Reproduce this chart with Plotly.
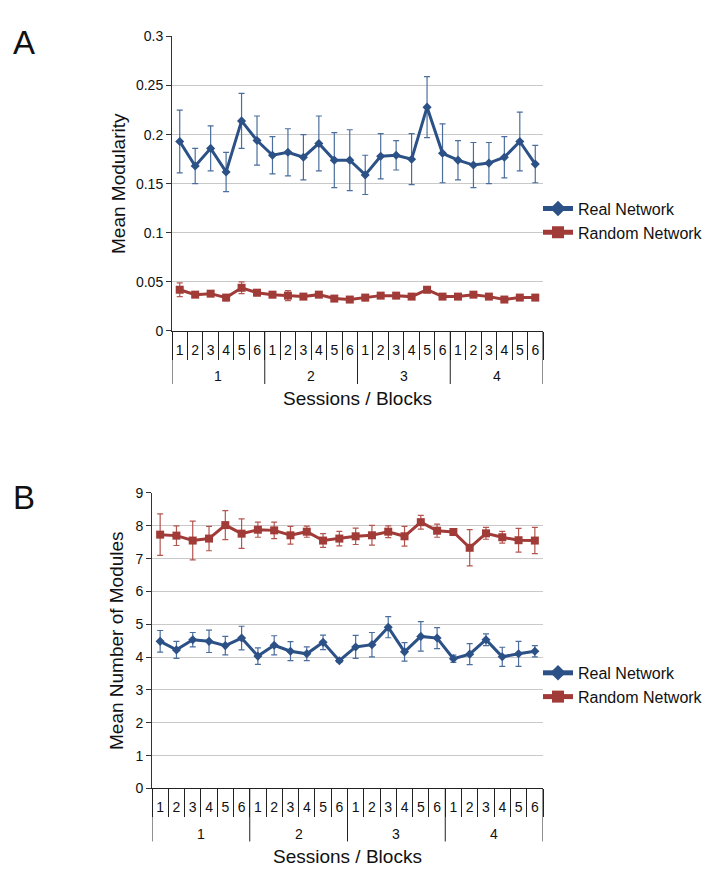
import plotly.graph_objects as go

# Sessions (outer level) and blocks (inner level) of the x axis
sessions = ["1", "2", "3", "4"]
blocks = ["1", "2", "3", "4", "5", "6"]
x_session = [s for s in sessions for _ in blocks]
x_block = [b for _ in sessions for b in blocks]

# Panel A: mean modularity
mod_real = [0.193, 0.168, 0.186, 0.162, 0.214, 0.194, 0.179, 0.182, 0.177, 0.191, 0.174, 0.174,
            0.159, 0.178, 0.179, 0.175, 0.228, 0.181, 0.174, 0.169, 0.171, 0.177, 0.193, 0.170]
mod_real_err = [0.032, 0.018, 0.023, 0.020, 0.028, 0.025, 0.019, 0.024, 0.023, 0.028, 0.028, 0.031,
                0.020, 0.023, 0.015, 0.026, 0.031, 0.030, 0.020, 0.023, 0.021, 0.021, 0.030, 0.019]
mod_rand = [0.042, 0.037, 0.038, 0.034, 0.044, 0.039, 0.037, 0.036, 0.035, 0.037, 0.033, 0.032,
            0.034, 0.036, 0.036, 0.035, 0.042, 0.035, 0.035, 0.037, 0.035, 0.032, 0.034, 0.034]
mod_rand_err = [0.007, 0.002, 0.002, 0.003, 0.006, 0.003, 0.003, 0.005, 0.002, 0.002, 0.002, 0.002,
                0.003, 0.002, 0.002, 0.002, 0.003, 0.002, 0.002, 0.002, 0.002, 0.002, 0.002, 0.002]

# Panel B: mean number of modules
nmod_real = [4.48, 4.22, 4.53, 4.48, 4.35, 4.58, 4.03, 4.36, 4.18, 4.10, 4.45, 3.89,
             4.31, 4.38, 4.91, 4.16, 4.63, 4.58, 3.95, 4.09, 4.53, 4.01, 4.10, 4.18]
nmod_real_err = [0.33, 0.26, 0.22, 0.34, 0.28, 0.36, 0.25, 0.29, 0.29, 0.21, 0.22, 0.05,
                 0.35, 0.37, 0.32, 0.28, 0.45, 0.32, 0.11, 0.32, 0.18, 0.29, 0.38, 0.17]
nmod_rand = [7.73, 7.70, 7.55, 7.61, 8.02, 7.76, 7.88, 7.86, 7.71, 7.82, 7.55, 7.61,
             7.68, 7.71, 7.82, 7.68, 8.11, 7.85, 7.81, 7.33, 7.77, 7.65, 7.56, 7.55]
nmod_rand_err = [0.63, 0.30, 0.59, 0.37, 0.44, 0.45, 0.23, 0.25, 0.27, 0.17, 0.21, 0.22,
                 0.25, 0.30, 0.18, 0.30, 0.21, 0.20, 0.10, 0.55, 0.18, 0.18, 0.36, 0.40]

BLUE = "#2C5187"
RED = "#A13B37"
BLUE_ERR = "#4B6E9E"
RED_ERR = "#B45550"
AXIS = "#222222"
TXT = "#111111"
FONT = "Liberation Sans, Arial, sans-serif"

W, H = 710, 873

# category positions along x, with session boundaries and session centres
n_cat = len(x_block)
n_blk = len(blocks)
xpos = list(range(n_cat))
bounds = [i - 0.5 for i in range(n_cat + 1)]
session_bounds = [i * n_blk - 0.5 for i in range(len(sessions) + 1)]
session_mid = [i * n_blk + (n_blk - 1) / 2 for i in range(len(sessions))]


def px_x(v):
    return v / W


def px_y(v):
    return 1 - v / H


fig = go.Figure()


def add_series(y, err, name, color, err_color, symbol, size, xa, ya, legend):
    fig.add_trace(go.Scatter(
        x=xpos, y=y, name=name, mode="lines+markers",
        customdata=list(zip(x_session, x_block)),
        hovertemplate="Session %{customdata[0]}, block %{customdata[1]}: %{y}<extra>" + name + "</extra>",
        line=dict(color=color, width=3),
        marker=dict(symbol=symbol, size=size, color=color),
        error_y=dict(type="data", array=err, visible=True, color=err_color,
                     thickness=1.2, width=3),
        xaxis=xa, yaxis=ya, legend=legend,
    ))


add_series(mod_real, mod_real_err, "Real Network", BLUE, BLUE_ERR, "diamond", 7, "x", "y", "legend")
add_series(mod_rand, mod_rand_err, "Random Network", RED, RED_ERR, "square", 8, "x", "y", "legend")
add_series(nmod_real, nmod_real_err, "Real Network", BLUE, BLUE_ERR, "diamond", 7, "x2", "y2", "legend2")
add_series(nmod_rand, nmod_rand_err, "Random Network", RED, RED_ERR, "square", 8, "x2", "y2", "legend2")

xaxis_common = dict(
    range=[-0.5, n_cat - 0.5], autorange=False,
    tickmode="array", tickvals=xpos, ticktext=x_block, tickangle=0,
    ticks="", ticklabelstandoff=6,
    minor=dict(tickmode="array", tickvals=bounds, ticks="outside", ticklen=28,
               tickcolor=AXIS, tickwidth=1, showgrid=False),
    showline=True, linecolor=AXIS, linewidth=1,
    showgrid=False, zeroline=False, tickfont=dict(family=FONT, size=14, color=TXT),
)
yaxis_common = dict(
    showline=True, linecolor="#333333", linewidth=1,
    ticks="outside", ticklen=5, tickcolor="#333333",
    showgrid=True, gridcolor="#C9C9C9", gridwidth=1, zeroline=False,
    tickfont=dict(family=FONT, size=14, color=TXT),
)

# panel geometry in pixels
panels = {
    "A": dict(bottom=329, xa="x", letter_top=14),
    "B": dict(bottom=795, xa="x2", letter_top=478),
}

shapes = []
annotations = []
for letter, p in panels.items():
    # session dividers below the x axis
    for b in session_bounds:
        shapes.append(dict(type="line", xref=p["xa"], yref="paper", x0=b, x1=b,
                           y0=px_y(p["bottom"]), y1=px_y(p["bottom"] + 54),
                           line=dict(color=AXIS, width=1)))
    # session labels
    for s, m in zip(sessions, session_mid):
        annotations.append(dict(text=s, xref=p["xa"], yref="paper", x=m, y=px_y(p["bottom"] + 46),
                                xanchor="center", yanchor="middle", showarrow=False,
                                font=dict(family=FONT, size=14, color=TXT)))
    # x axis title
    annotations.append(dict(text="Sessions / Blocks", xref=p["xa"] + " domain", yref="paper",
                            x=0.5, y=px_y(p["bottom"] + 69), xanchor="center", yanchor="middle",
                            showarrow=False, font=dict(family=FONT, size=19, color=TXT)))
    # panel letter
    annotations.append(dict(text=letter, x=px_x(11), y=px_y(p["letter_top"]), xref="paper",
                            yref="paper", xanchor="left", yanchor="top", showarrow=False,
                            font=dict(family=FONT, size=33, color=TXT)))

fig.update_layout(
    width=W, height=H, margin=dict(l=0, r=0, t=0, b=0),
    paper_bgcolor="white", plot_bgcolor="white",
    font=dict(family=FONT, color=TXT),
    xaxis=dict(domain=[px_x(172), px_x(543)], anchor="y", **xaxis_common),
    yaxis=dict(domain=[px_y(329), px_y(29)], anchor="x", range=[0, 0.3], dtick=0.05,
               title=dict(text="Mean Modularity", font=dict(family=FONT, size=19, color=TXT),
                          standoff=5),
               **yaxis_common),
    xaxis2=dict(domain=[px_x(152), px_x(543)], anchor="y2", **xaxis_common),
    yaxis2=dict(domain=[px_y(795), px_y(494)], anchor="x2", range=[0, 9], dtick=1,
                title=dict(text="Mean Number of Modules", font=dict(family=FONT, size=19, color=TXT),
                           standoff=6),
                **yaxis_common),
    legend=dict(x=px_x(538), y=px_y(187), xanchor="left", yanchor="top",
                font=dict(family=FONT, size=16, color=TXT), bgcolor="rgba(0,0,0,0)",
                tracegroupgap=0, itemsizing="constant"),
    legend2=dict(x=px_x(538), y=px_y(660), xanchor="left", yanchor="top",
                 font=dict(family=FONT, size=16, color=TXT), bgcolor="rgba(0,0,0,0)",
                 tracegroupgap=0, itemsizing="constant"),
    shapes=shapes,
    annotations=annotations,
)

fig.write_html("out.html")
